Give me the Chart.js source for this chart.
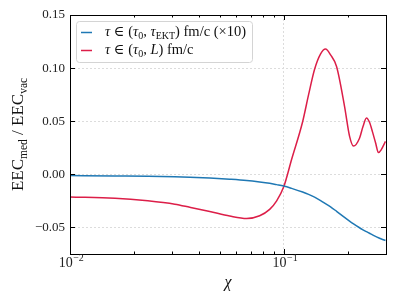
<!DOCTYPE html>
<html><head><meta charset="utf-8">
<script src="https://cdn.jsdelivr.net/npm/chart.js@4/dist/chart.umd.min.js"></script>
<style>html,body{margin:0;padding:0;background:#fff}canvas{display:block}</style>
</head><body>
<canvas id="c" width="396" height="297"></canvas>
<script>
// chi values (x axis, log)
const chi = [0.01,0.01622,0.02311,0.0309,0.03631,0.04501,0.0558,0.06696,0.07702,0.08577,0.09247,0.09969,0.1086,0.1223,0.1304,0.1391,0.1484,0.1565,0.1652,0.1762,0.192,0.2026,0.2115,0.2256,0.2342,0.2432,0.2512,0.2594,0.2679,0.2766,0.2856,0.2983];
// tau in (tau0, tauEKT) fm/c (x10)
const ektSeries = [-0.0012,-0.0016,-0.0019,-0.0023,-0.0027,-0.0035,-0.0046,-0.0058,-0.0072,-0.0085,-0.0097,-0.011,-0.0132,-0.0167,-0.0189,-0.0215,-0.0247,-0.0276,-0.0306,-0.0348,-0.0406,-0.0441,-0.0467,-0.0503,-0.0522,-0.054,-0.0555,-0.057,-0.0584,-0.0597,-0.0609,-0.0623];
// tau in (tau0, L) fm/c
const lSeries = [-0.0213,-0.0224,-0.0249,-0.0281,-0.031,-0.035,-0.0393,-0.0416,-0.039,-0.033,-0.025,-0.012,0.014,0.0495,0.075,0.099,0.1135,0.118,0.1125,0.1015,0.064,0.036,0.0266,0.034,0.045,0.053,0.049,0.04,0.03,0.0205,0.0235,0.031];
const yTicks = [-0.05,0,0.05,0.1,0.15];
const xTicks = [0.01,0.02,0.03,0.04,0.05,0.06,0.07,0.08,0.09,0.1,0.2,0.3];
const xMajor = [0.01,0.1];
const xTickLabels = [["10","\u22122"],["10","\u22121"]];
const legendLabels = [
  [{t:'\u03C4',i:1},{t:' \u2208 ('},{t:'\u03C4',i:1},{t:'0',s:1},{t:', '},{t:'\u03C4',i:1},{t:'EKT',s:1},{t:') fm/c (\u00D710)'}],
  [{t:'\u03C4',i:1},{t:' \u2208 ('},{t:'\u03C4',i:1},{t:'0',s:1},{t:', '},{t:'L',i:1},{t:') fm/c'}]
];
const yTitle = [{t:'EEC'},{t:'med',s:1},{t:' / EEC'},{t:'vac',s:1}];
const colors = ['#1f78b4','#dc1e48'];
const FONT = '"Liberation Serif", "DejaVu Serif", serif';

function drawRich(ctx, segs, x, y, size, subSize){
  let cx = x;
  for (const sg of segs){
    const fs = sg.s ? subSize : size;
    ctx.font = (sg.i ? 'italic ' : '') + fs + 'px ' + FONT;
    ctx.fillText(sg.t, cx, y + (sg.s ? size*0.28 : 0));
    cx += ctx.measureText(sg.t).width;
  }
  return cx - x;
}
function richWidth(ctx, segs, size, subSize){
  let w=0;
  for (const sg of segs){
    const fs = sg.s ? subSize : size;
    ctx.font = (sg.i ? 'italic ' : '') + fs + 'px ' + FONT;
    w += ctx.measureText(sg.t).width;
  }
  return w;
}

const deco = {
  id:'deco',
  afterDatasetsDraw(chart){
    const ctx = chart.ctx, a = chart.chartArea, xs = chart.scales.x, ys = chart.scales.y;
    ctx.save();
    ctx.strokeStyle = '#000'; ctx.lineWidth = 1;
    // ticks inward
    ctx.beginPath();
    for (const v of xTicks){
      const px = Math.round(xs.getPixelForValue(v))+0.5;
      if (px < a.left || px > a.right+1) continue;
      const L = xMajor.includes(v) ? 5 : 2.5;
      ctx.moveTo(px, a.bottom); ctx.lineTo(px, a.bottom-L);
      ctx.moveTo(px, a.top); ctx.lineTo(px, a.top+L);
    }
    for (const v of yTicks){
      const py = Math.round(ys.getPixelForValue(v))+0.5;
      ctx.moveTo(a.left, py); ctx.lineTo(a.left+5, py);
      ctx.moveTo(a.right, py); ctx.lineTo(a.right-5, py);
    }
    ctx.stroke();
    // frame
    ctx.strokeRect(Math.round(a.left)+0.5, Math.round(a.top)+0.5, Math.round(a.right-a.left), Math.round(a.bottom-a.top));
    // x tick labels with superscripts
    ctx.fillStyle='#222'; ctx.textBaseline='alphabetic'; ctx.textAlign='left';
    xMajor.forEach((v,k)=>{
      const px = xs.getPixelForValue(v);
      ctx.font = '14px '+FONT; const w1 = ctx.measureText(xTickLabels[k][0]).width;
      ctx.font = '10px '+FONT; const w2 = ctx.measureText(xTickLabels[k][1]).width;
      const x0 = px - (w1+w2)/2 + 1;
      ctx.font = '14px '+FONT; ctx.fillText(xTickLabels[k][0], x0, 267);
      ctx.font = '10px '+FONT; ctx.fillText(xTickLabels[k][1], x0+w1+0.5, 261);
    });
    // legend
    const bx=76.5, by=21.5, bw=176, bh=41, r=3;
    ctx.beginPath();
    ctx.moveTo(bx+r,by); ctx.arcTo(bx+bw,by,bx+bw,by+bh,r); ctx.arcTo(bx+bw,by+bh,bx,by+bh,r);
    ctx.arcTo(bx,by+bh,bx,by,r); ctx.arcTo(bx,by,bx+bw,by,r); ctx.closePath();
    ctx.fillStyle='rgba(255,255,255,0.85)'; ctx.fill();
    ctx.strokeStyle='#d4d4d4'; ctx.lineWidth=1; ctx.stroke();
    const rows=[32.5,50.5];
    legendLabels.forEach((segs,k)=>{
      ctx.strokeStyle=colors[k]; ctx.lineWidth=1.5;
      ctx.beginPath(); ctx.moveTo(81,rows[k]); ctx.lineTo(92,rows[k]); ctx.stroke();
      ctx.fillStyle='#111'; ctx.textBaseline='middle'; ctx.textAlign='left';
      drawRich(ctx, segs, 105, rows[k], 14.5, 10);
    });
    // y title
    ctx.save();
    ctx.translate(19, (a.top+a.bottom)/2);
    ctx.rotate(-Math.PI/2);
    ctx.textBaseline='middle'; ctx.textAlign='left'; ctx.fillStyle='#111';
    const w = richWidth(ctx, yTitle, 17, 11.5);
    drawRich(ctx, yTitle, -w/2, 0, 17, 11.5);
    ctx.restore();
    // x title
    ctx.font='italic 16px '+FONT; ctx.textAlign='center'; ctx.textBaseline='middle'; ctx.fillStyle='#111';
    ctx.fillText('\u03C7', (a.left+a.right)/2, 283);
    ctx.restore();
  }
};

const gridColor = (c)=> (c.tick && (Math.abs(c.tick.value-0.1)<1e-9 || (c.scale.axis==='y' && c.tick.value<0.14))) ? '#dcdcdc' : 'rgba(0,0,0,0)';

new Chart(document.getElementById('c'), {
  type:'line',
  data:{datasets:[
    {label:'tau in (tau0, tauEKT) fm/c (x10)', data: chi.map((x,i)=>({x, y:ektSeries[i]})), borderColor:colors[0], borderWidth:1.5, pointRadius:0, cubicInterpolationMode:'monotone', fill:false},
    {label:'tau in (tau0, L) fm/c', data: chi.map((x,i)=>({x, y:lSeries[i]})), borderColor:colors[1], borderWidth:1.5, pointRadius:0, cubicInterpolationMode:'monotone', fill:false}
  ]},
  options:{
    responsive:false, animation:false, devicePixelRatio:1,
    layout:{padding:{top:15,right:10,left:0,bottom:0}},
    plugins:{legend:{display:false}, tooltip:{enabled:false}},
    scales:{
      x:{type:'logarithmic', min:0.01, max:0.3,
        afterBuildTicks:(s)=>{ s.ticks = xTicks.map(v=>({value:v})); },
        afterFit:(s)=>{ s.height = 43; },
        ticks:{autoSkip:false, maxRotation:0, padding:4, color:'#222', font:{family:FONT, size:13},
          callback:()=> ''},
        grid:{drawTicks:false, color:gridColor, lineWidth:1},
        border:{display:false, dash:[2,2]}
      },
      y:{type:'linear', min:-0.075, max:0.15,
        afterBuildTicks:(s)=>{ s.ticks = yTicks.map(v=>({value:v})); },
        afterFit:(s)=>{ s.width = 70; },
        ticks:{padding:5, color:'#222', font:{family:FONT, size:13},
          callback:(v)=>{ const t=Number(v).toFixed(2); return t.startsWith('-') ? '\u2212'+t.slice(1) : t; }},
        grid:{drawTicks:false, color:gridColor, lineWidth:1},
        border:{display:false, dash:[2,2]}
      }
    }
  },
  plugins:[deco]
});
</script>
</body></html>
